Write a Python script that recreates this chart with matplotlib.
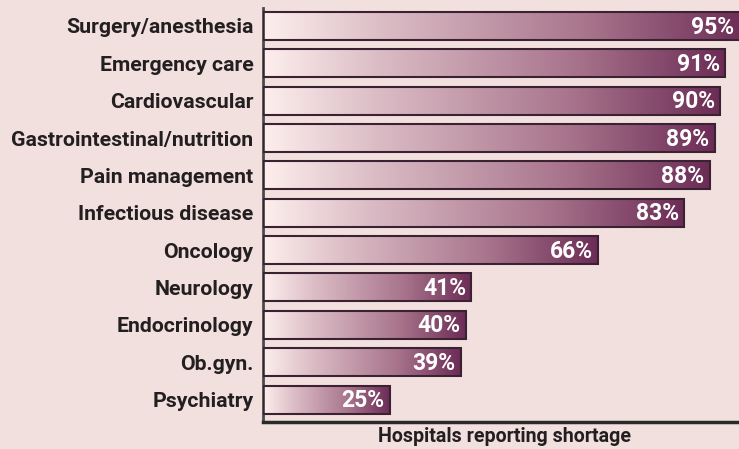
import numpy as np
import matplotlib
import matplotlib.pyplot as plt
from matplotlib.colors import LinearSegmentedColormap

matplotlib.rcParams['font.family'] = ['Roboto', 'Liberation Sans', 'DejaVu Sans']

categories = ['Surgery/anesthesia', 'Emergency care', 'Cardiovascular',
              'Gastrointestinal/nutrition', 'Pain management', 'Infectious disease',
              'Oncology', 'Neurology', 'Endocrinology', 'Ob.gyn.', 'Psychiatry']
values = [95, 91, 90, 89, 88, 83, 66, 41, 40, 39, 25]
xlabel = 'Hospitals reporting shortage'

bg = '#f2e0de'
cmap = LinearSegmentedColormap.from_list(
    'bar', [(0, '#fdefed'), (0.25, '#dbbcc5'), (0.68, '#a7738b'), (1, '#6c2c56')])

fig = plt.figure(figsize=(7.39, 4.49), dpi=100, facecolor=bg)
ax = fig.add_axes([263/739, 1-422/449, 1-263/739, (422-8)/449])
ax.set_facecolor(bg)

xmax = 93.8
grad = np.linspace(0, 1, 256).reshape(1, -1)
h = 0.75
bars = ax.barh(range(len(values)), values, height=h, color='none',
               edgecolor='#3a2233', linewidth=1.5, zorder=3)
for i, (b, v) in enumerate(zip(bars, values)):
    im = ax.imshow(grad, cmap=cmap, aspect='auto', extent=(0, v, i+h/2, i-h/2),
                   zorder=2, interpolation='bilinear')
    im.set_clip_path(b)
    ax.text(min(v, xmax) - 1.0, i + 0.03, f'{v}%', ha='right', va='center',
            color='white', fontsize=16.5, fontweight='bold', zorder=4)
ax.set_xlim(0, xmax)
ax.set_ylim(10.6, -0.48)

ax.set_yticks(range(len(categories)))
ax.set_yticklabels(categories, fontsize=15.3, fontweight='bold', color='#231f20')
ax.tick_params(axis='y', length=0, pad=7)
ax.set_xticks([])
for s in ['top', 'right']:
    ax.spines[s].set_visible(False)
ax.spines['left'].set_color('#4a4a4a')
ax.spines['left'].set_linewidth(2)
ax.spines['bottom'].set_color('#2a2a2a')
ax.spines['bottom'].set_linewidth(2.5)

fig.text(505/739, 1-437/449, xlabel, ha='center', va='center',
         fontsize=14.1, fontweight='bold', color='#231f20')

plt.savefig('out.png', dpi=100, facecolor=bg)
